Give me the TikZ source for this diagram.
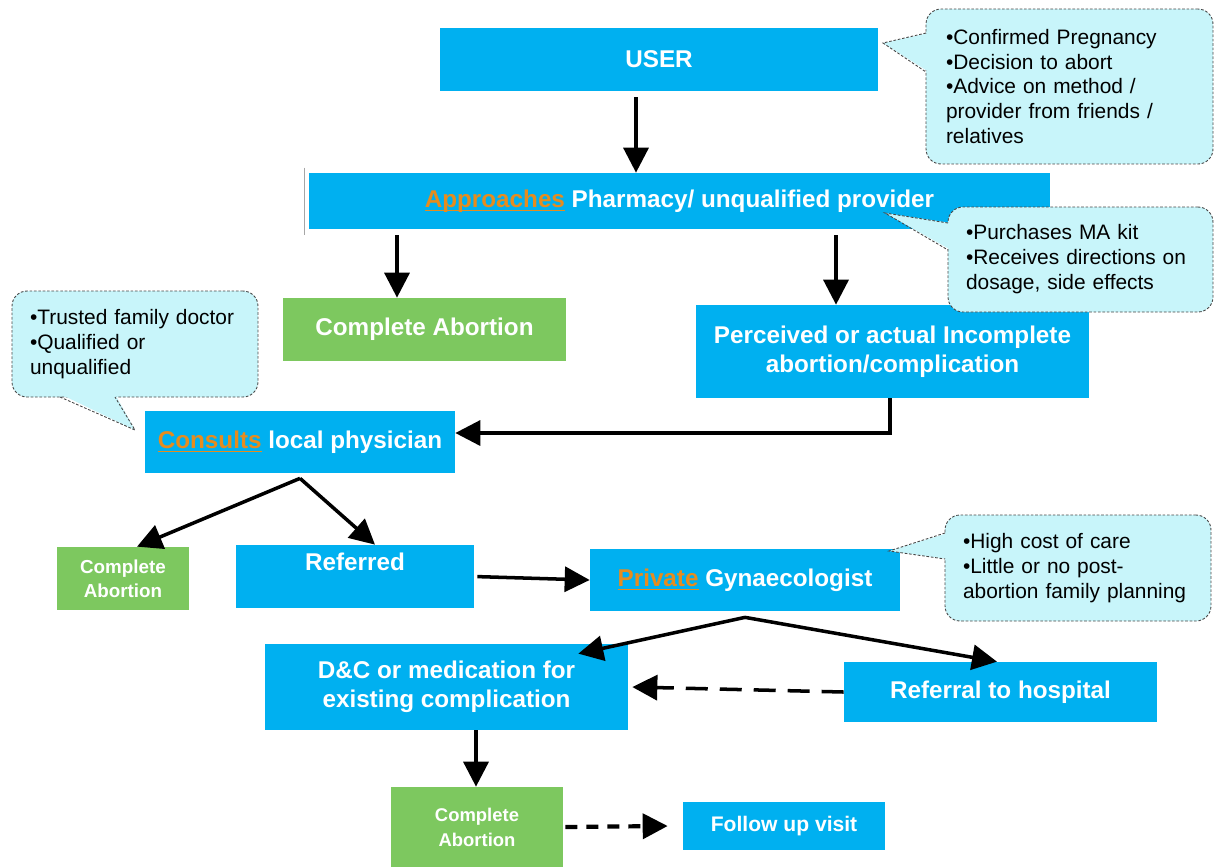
\documentclass[tikz,border=0pt]{standalone}
\usepackage{fontspec}
\setmainfont{Liberation Sans}
\usepackage{xcolor}
\usetikzlibrary{positioning, arrows.meta, calc}

\definecolor{boxblue}{RGB}{0,176,240}
\definecolor{donegreen}{RGB}{125,200,95}
\definecolor{notefill}{RGB}{200,245,250}
\definecolor{noteline}{RGB}{70,70,70}
\definecolor{actword}{RGB}{230,140,30}

% orange underlined action word
\newcommand{\hiword}[1]{\textcolor{actword}{\setbox0\hbox{#1}\rlap{\rule[-2.4pt]{\wd0}{1.1pt}}\box0}}

\begin{document}
\begin{tikzpicture}[
    x=0.02cm, y=-0.02cm,
    printbox/.style={
        rectangle,
        fill=boxblue,
        text=white,
        inner sep=2pt,
        align=center,
        font=\fontsize{13.8}{16.5}\selectfont\bfseries
    },
    donebox/.style={
        printbox,
        fill=donegreen
    },
    notebox/.style={
        rectangle,
        rounded corners=0.3cm,
        fill=notefill,
        draw=noteline,
        line width=0.5pt,
        dash pattern=on 1.5pt off 1pt,
        inner xsep=0.36cm,
        align=left,
        font=\fontsize{11.9}{14.2}\selectfont
    },
    noteedge/.style={
        draw=noteline,
        line width=0.5pt,
        dash pattern=on 1.5pt off 1pt
    },
    flow/.style={-{Triangle[length=0.5cm,width=0.5cm]}, line width=2pt, black},
    dashflow/.style={flow, dash pattern=on 0.44cm off 0.24cm}
]
    \useasboundingbox (0,0) rectangle (1220,867);

    % Row 1: user and first contact
    \node[printbox, minimum width=8.76cm, minimum height=1.26cm] (user) at (659,59.5) {USER};
    \node[printbox, minimum width=14.82cm, minimum height=1.12cm] (appr) at (679.5,201)
        {\hiword{Approaches} Pharmacy/ unqualified provider};
    \draw[gray!70, line width=0.8pt] ([xshift=-0.08cm,yshift=0.1cm]appr.north west) -- ([xshift=-0.08cm,yshift=-0.12cm]appr.south west);

    % Row 2: outcomes of the MA kit
    \node[donebox, minimum width=5.66cm, minimum height=1.26cm] (compA) at (424.5,329.5) {Complete Abortion};
    \node[printbox, minimum width=7.86cm, minimum height=1.86cm] (perc) at (892.5,351.5)
        {Perceived or actual Incomplete\\abortion/complication};

    % Row 3: local physician
    \node[printbox, minimum width=6.2cm, minimum height=1.24cm] (consult) at (300,442)
        {\hiword{Consults} local physician};
    \node[donebox, font=\fontsize{10.7}{13.6}\selectfont\bfseries, minimum width=2.64cm, minimum height=1.26cm] (compB) at (123,578.5) {Complete\\Abortion};
    \node[printbox, minimum width=4.76cm, minimum height=1.26cm] (refd) at (355,576.5) {Referred\\\mbox{}};
    \node[printbox, minimum width=6.2cm, minimum height=1.24cm] (priv) at (745,580)
        {\hiword{Private} Gynaecologist};

    % Row 4: treatment
    \node[printbox, minimum width=7.26cm, minimum height=1.72cm] (dc) at (446.5,687)
        {D\&C or medication for\\existing complication};
    \node[printbox, minimum width=6.26cm, minimum height=1.2cm] (hosp) at (1000.5,692) {Referral to hospital};
    \node[donebox, font=\fontsize{10.5}{14.2}\selectfont\bfseries, minimum width=3.44cm, minimum height=1.6cm] (compC) at (477,827) {Complete\\Abortion};
    \node[printbox, font=\fontsize{12}{14}\selectfont\bfseries, minimum width=4.04cm, minimum height=0.96cm] (follow) at (784,826) {Follow up visit};

    % Callouts
    \node[notebox, text width=4.94cm, inner xsep=0.4cm, minimum height=3.1cm] (noteuser) at (1069.5,86.5)
        {•Confirmed Pregnancy\\•Decision to abort\\•Advice on method /\\provider from friends /\\relatives};
    \fill[notefill] (929,33) -- (883,43) -- (929,72) -- cycle;
    \draw[noteedge] (926,33) -- (883,43) -- (926,72);

    \node[notebox, text width=4.58cm, minimum height=2.1cm] (noteappr) at (1080.5,259.5)
        {•Purchases MA kit\\•Receives directions on\\dosage, side effects};
    \fill[notefill] (951,223) -- (885,213) -- (951,250) -- cycle;
    \draw[noteedge] (948,223) -- (885,213) -- (948,250);

    \node[notebox, text width=4.2cm, minimum height=2.12cm] (notedoc) at (135,344)
        {•Trusted family doctor\\•Qualified or\\unqualified};
    \fill[notefill] (60,394) -- (135,430) -- (115,394) -- cycle;
    \draw[noteedge] (60,397) -- (135,430) -- (115,397);

    \node[notebox, text width=4.6cm, minimum height=2.12cm] (notepriv) at (1078,568)
        {•High cost of care\\•Little or no post-\\abortion family planning};
    \fill[notefill] (948,533) -- (889,551) -- (948,559) -- cycle;
    \draw[noteedge] (945,533) -- (889,551) -- (945,559);

    % Arrows
    \coordinate (u1) at ([xshift=-0.46cm,yshift=-0.12cm]user.south);
    \draw[flow] (u1) -- (u1 |- appr.north);
    \coordinate (a1) at ([xshift=-0.55cm]compA.north);
    \draw[flow, shorten <=0.12cm] (a1 |- appr.south) -- (a1);
    \coordinate (a2) at ([xshift=-1.13cm]perc.north);
    \draw[flow, shorten <=0.12cm] (a2 |- appr.south) -- (a2);
    \coordinate (c1) at ([yshift=0.18cm]consult.east);
    \draw[flow] ([xshift=-0.05cm]perc.south) |- (c1);
    \coordinate (c0) at ([yshift=-0.1cm]consult.south);
    \draw[flow] (c0) -- ([xshift=0.28cm]compB.north);
    \draw[flow] (c0) -- ([xshift=0.4cm]refd.north);
    \draw[flow, shorten <=0.06cm] (refd.east) -- (priv.west);
    \coordinate (p0) at ([yshift=-0.12cm]priv.south);
    \draw[flow] (p0) -- ([xshift=-1cm,yshift=-0.2cm]dc.north east);
    \draw[flow] (p0) -- ([xshift=-0.07cm]hosp.north);
    \draw[dashflow] (hosp.west) -- ([xshift=0.08cm]dc.east);
    \coordinate (d0) at ([xshift=-0.02cm]compC.north);
    \draw[flow] (d0 |- dc.south) -- (d0);
    \draw[flow, line width=2.4pt, dash pattern=on 0.24cm off 0.18cm, shorten <=0.04cm] (compC.east) -- ([xshift=-0.3cm]follow.west);
\end{tikzpicture}
\end{document}
